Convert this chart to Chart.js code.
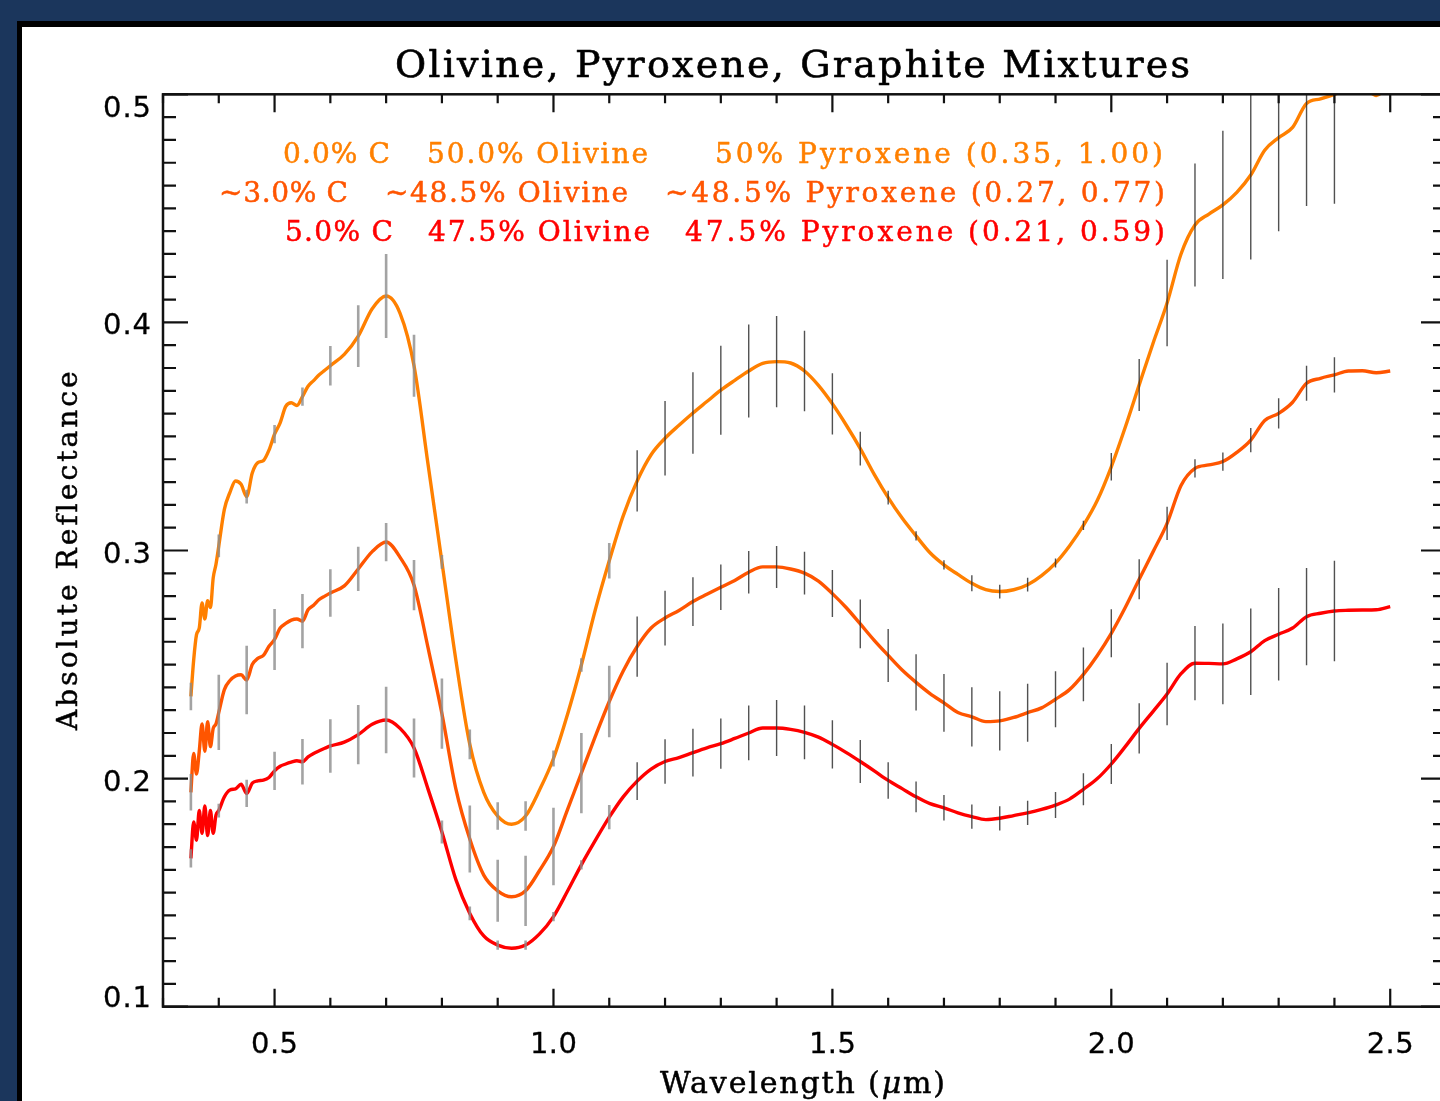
<!DOCTYPE html>
<html>
<head>
<meta charset="utf-8">
<script src="https://cdn.jsdelivr.net/npm/chart.js@4.4.1/dist/chart.umd.min.js"></script>
<style>
  html, body { margin:0; padding:0; width:1440px; height:1101px; overflow:hidden; background:#1b365c; }
  #panel { position:absolute; left:17px; top:21px; width:1460px; height:1120px; background:#fff;
           border-left:5px solid #000; border-top:6px solid #000; }
  #wrap { position:absolute; left:0; top:0; width:1470px; height:1101px; }
</style>
</head>
<body>
<div id="panel"></div>
<div id="wrap"><canvas id="specChart" width="1470" height="1101"></canvas></div>
<script>
// wavelength grid (µm)
const wl = [
  0.350,0.355,0.360,0.365,0.370,0.375,0.380,0.385,0.390,0.395,0.400,
  0.41,0.42,0.43,0.44,0.45,0.46,0.47,0.48,0.49,0.50,0.51,0.52,0.53,0.54,0.55,0.56,0.57,0.58,0.59,0.60,
  0.625,0.650,0.675,0.700,0.725,0.750,0.775,0.800,0.825,0.850,0.875,0.900,0.925,0.950,0.975,1.000,
  1.025,1.050,1.075,1.100,1.125,1.150,1.175,1.200,1.225,1.250,1.275,1.300,1.325,1.350,1.375,1.400,
  1.425,1.450,1.475,1.500,1.525,1.550,1.575,1.600,1.625,1.650,1.675,1.700,1.725,1.750,1.775,1.800,
  1.825,1.850,1.875,1.900,1.925,1.950,1.975,2.000,
  2.025,2.050,2.075,2.100,2.125,2.150,2.175,2.200,2.225,2.250,2.275,2.300,2.325,2.350,2.375,2.400,
  2.425,2.450,2.475,2.500
];

// reflectance, 0% graphite
const refl0 = [
  0.236,0.252,0.263,0.266,0.277,0.270,0.278,0.275,0.288,0.294,0.302,
  0.318,0.3255,0.3305,0.329,0.3236,0.334,0.3385,0.3394,0.344,0.351,0.356,0.3632,0.3648,0.3636,0.3675,0.372,0.3745,0.377,0.379,0.381,
  0.386,0.394,0.406,0.4116,0.404,0.381,0.338,0.295,0.252,0.215,0.194,0.1836,0.180,0.1836,0.195,0.2088,
  0.228,0.2498,0.274,0.2955,0.3152,0.3305,0.342,0.3492,0.3549,0.3603,0.3653,0.3703,0.3746,0.3787,0.382,0.3828,
  0.3822,0.3787,0.3724,0.3643,0.3549,0.3447,0.3334,0.3232,0.3142,0.3064,0.299,0.2937,0.2895,0.2856,0.2828,0.282,
  0.2828,0.285,0.289,0.2945,0.302,0.311,0.322,0.3367,
  0.354,0.3726,0.391,0.4085,0.430,0.4427,0.4475,0.4515,0.457,0.4646,0.4755,0.481,0.4855,0.496,0.498,0.500,
  0.5025,0.503,0.4995,0.5045
];

// reflectance, ~3% graphite
const refl3 = [
  0.194,0.211,0.202,0.212,0.224,0.212,0.225,0.214,0.222,0.224,0.229,
  0.239,0.243,0.245,0.2455,0.2432,0.250,0.2527,0.254,0.258,0.261,0.266,0.268,0.2695,0.270,0.269,0.274,0.276,0.2785,0.280,0.2814,
  0.2845,0.2919,0.2995,0.3037,0.297,0.2848,0.2575,0.2285,0.1955,0.1735,0.1577,0.1508,0.1482,0.1508,0.1597,0.1702,
  0.1863,0.2024,0.2185,0.2338,0.2472,0.2579,0.266,0.2704,0.2737,0.2776,0.2808,0.2839,0.2869,0.2905,0.2928,0.2928,
  0.2919,0.2901,0.2866,0.2811,0.2749,0.2678,0.2606,0.254,0.2476,0.2422,0.2373,0.2332,0.229,0.2271,0.225,0.2253,
  0.2268,0.2289,0.231,0.2348,0.239,0.2457,0.254,0.2637,
  0.275,0.2874,0.2995,0.3119,0.3285,0.336,0.3375,0.339,0.343,0.3484,0.357,0.3601,0.365,0.3733,0.3755,0.377,
  0.3787,0.3788,0.3779,0.3787
];

// reflectance, 5% graphite
const refl5 = [
  0.165,0.181,0.173,0.186,0.176,0.188,0.175,0.186,0.176,0.184,0.186,
  0.192,0.195,0.1955,0.1975,0.1935,0.198,0.199,0.1993,0.2005,0.2034,0.2054,0.2064,0.2072,0.2078,0.2074,0.2095,0.211,0.2122,0.2133,0.2143,
  0.216,0.2193,0.2238,0.2257,0.222,0.2134,0.1955,0.1766,0.1557,0.1409,0.131,0.127,0.1256,0.127,0.1319,0.1395,
  0.1506,0.1622,0.1729,0.1831,0.192,0.1989,0.2042,0.2075,0.2092,0.2114,0.2135,0.2153,0.2176,0.220,0.2222,0.2222,
  0.2216,0.2203,0.2182,0.215,0.2114,0.2075,0.2034,0.1992,0.1956,0.192,0.189,0.1872,0.185,0.1833,0.182,0.1826,
  0.1838,0.185,0.1865,0.1884,0.191,0.1953,0.2,0.2064,
  0.214,0.222,0.2295,0.2371,0.246,0.2506,0.2505,0.2503,0.2525,0.2556,0.2605,0.2633,0.266,0.271,0.2725,0.2735,
  0.2738,0.2739,0.274,0.2754
];

// error bar positions and half-widths
const errWl = [
  0.35,0.40,0.45,0.50,0.55,0.60,0.65,0.70,0.75,0.80,0.85,0.90,0.95,1.00,1.05,1.10,1.15,1.20,1.25,1.30,1.35,
  1.40,1.45,1.50,1.55,1.60,1.65,1.70,1.75,1.80,1.85,1.90,1.95,2.00,2.05,2.10,2.15,2.20,2.25,2.30,2.35,2.40
];
const err0 = [
  0.006,0.005,0.003,0.004,0.004,0.0087,0.0135,0.0184,0.0136,0.003,
  0.0065,0.006,0.0065,0.0035,0.003,0.0078,0.0134,0.0163,0.0179,0.0195,
  0.0204,0.020,0.0176,0.0134,0.0074,0.003,0.002,0.002,0.0035,0.003,
  0.003,0.002,0.002,0.006,0.0114,0.019,0.027,0.0325,0.037,0.041,
  0.045,0.048
];
const err3 = [
  0.008,0.0165,0.015,0.0134,0.0119,0.0104,0.0097,0.0084,0.011,0.0154,
  0.0147,0.0136,0.0154,0.017,0.0176,0.0157,0.0132,0.012,0.0107,0.010,
  0.0093,0.0092,0.0094,0.0103,0.0107,0.0116,0.0123,0.0127,0.013,0.013,
  0.0127,0.0123,0.0118,0.0105,0.0088,0.0073,0.004,0.004,0.0053,0.0066,
  0.0077,0.0077
];
const err5 = [
  0.004,0.003,0.006,0.0084,0.010,0.0117,0.013,0.0146,0.0129,0.005,
  0.003,0.002,0.002,0.002,0.002,0.0053,0.0083,0.0098,0.0105,0.011,
  0.012,0.0123,0.0118,0.0106,0.0094,0.008,0.0067,0.0056,0.0053,0.0053,
  0.0053,0.0057,0.007,0.0088,0.011,0.0137,0.0163,0.0177,0.019,0.0203,
  0.0213,0.022
];

const xTickLabels = ['0.5', '1.0', '1.5', '2.0', '2.5'];
const yTickLabels = ['0.1', '0.2', '0.3', '0.4', '0.5'];
const legendRows = [
  ['0.0% C', '50.0% Olivine', '50% Pyroxene (0.35, 1.00)'],
  ['~3.0% C', '~48.5% Olivine', '~48.5% Pyroxene (0.27, 0.77)'],
  ['5.0% C', '47.5% Olivine', '47.5% Pyroxene (0.21, 0.59)']
];

const colors = ['#ff8000', '#ff5500', '#ff0000'];
const series = [refl0, refl3, refl5];
const errs = [err0, err3, err5];

const SERIF = '"DejaVu Serif", serif';
const SANS = '"DejaVu Sans", sans-serif';

// draws text runs stretched (via letter spacing) to a given width,
// with a thin outline to give the heavier plotter-style stroke
function drawFitted(ctx, runs, x, y, w, align, weight) {
  ctx.letterSpacing = '0px';
  let nat = 0, n = 0;
  runs.forEach(([t, f]) => { ctx.font = f; nat += ctx.measureText(t).width; n += t.length; });
  const sp = w ? (w - nat) / Math.max(n - 1, 1) : 0;
  const total = nat + sp * (n - 1);
  let cx = align === 'center' ? x - total / 2 : align === 'right' ? x - total : x;
  ctx.textAlign = 'left';
  ctx.strokeStyle = ctx.fillStyle;
  ctx.lineWidth = weight || 0.5;
  ctx.lineJoin = 'round';
  runs.forEach(([t, f]) => {
    ctx.font = f;
    ctx.letterSpacing = '0px';
    const tw = ctx.measureText(t).width;
    ctx.letterSpacing = sp + 'px';
    ctx.fillText(t, cx, y);
    if (weight > 0) ctx.strokeText(t, cx, y);
    cx += tw + sp * t.length;
  });
  ctx.letterSpacing = '0px';
}

const idlFrame = {
  id: 'idlFrame',
  afterDatasetsDraw(chart) {
    const ctx = chart.ctx;
    const xs = chart.scales.x, ys = chart.scales.y;
    const a = chart.chartArea;

    // error bars, centred on the spectra
    ctx.save();
    ctx.beginPath();
    ctx.rect(a.left, a.top, a.right - a.left, a.bottom - a.top);
    ctx.clip();
    series.forEach((vals, s) => {
      errWl.forEach((w, i) => {
        const k = wl.findIndex(v => Math.abs(v - w) < 1e-6);
        const v = vals[k], e = errs[s][i];
        const px = xs.getPixelForValue(w);
        ctx.strokeStyle = w < 1.12 ? 'rgba(140,140,140,0.8)' : 'rgba(50,50,50,0.85)';
        ctx.lineWidth = w < 1.12 ? 2.6 : 1.4;
        ctx.beginPath();
        ctx.moveTo(px, ys.getPixelForValue(v - e));
        ctx.lineTo(px, ys.getPixelForValue(v + e));
        ctx.stroke();
      });
    });
    ctx.restore();

    // axis box and inward ticks
    ctx.save();
    ctx.strokeStyle = '#111';
    ctx.lineWidth = 2.5;
    ctx.strokeRect(a.left, a.top, a.right - a.left, a.bottom - a.top);
    ctx.lineWidth = 2.2;
    ctx.beginPath();
    for (let k = 10; k <= 50; k++) {
      const py = ys.getPixelForValue(k / 100);
      const len = k % 10 === 0 ? 25 : 13;
      ctx.moveTo(a.left, py); ctx.lineTo(a.left + len, py);
      ctx.moveTo(a.right, py); ctx.lineTo(a.right - len, py);
    }
    for (let k = 3; k <= 26; k++) {
      const px = xs.getPixelForValue(k / 10);
      const len = k % 5 === 0 ? 18 : 9;
      ctx.moveTo(px, a.bottom); ctx.lineTo(px, a.bottom - len);
      ctx.moveTo(px, a.top); ctx.lineTo(px, a.top + len);
    }
    ctx.stroke();

    // tick labels
    ctx.fillStyle = '#000';
    ctx.textBaseline = 'alphabetic';
    xTickLabels.forEach(t => {
      const px = xs.getPixelForValue(parseFloat(t));
      drawFitted(ctx, [[t, '29px ' + SANS]], px, a.bottom + 46, 47, 'center', 0.3);
    });
    yTickLabels.forEach(t => {
      const py = ys.getPixelForValue(parseFloat(t));
      const base = Math.min(Math.max(py + 12, a.top + 23), a.bottom);
      drawFitted(ctx, [[t, '29px ' + SANS]], 151, base, 48, 'right', 0.3);
    });

    // titles
    drawFitted(ctx, [['Olivine, Pyroxene, Graphite Mixtures', '38px ' + SERIF]], 792.5, 77, 795, 'center', 0.6);
    drawFitted(ctx, [['Wavelength (', '30px ' + SERIF], ['\u03bc', 'italic 30px ' + SERIF], ['m)', '30px ' + SERIF]],
      802.5, 1093, 285, 'center', 0.5);
    ctx.save();
    ctx.translate(77, 551);
    ctx.rotate(-Math.PI / 2);
    drawFitted(ctx, [['Absolute Reflectance', '28px ' + SERIF]], 0, 0, 358, 'center', 0.5);
    ctx.restore();

    // mixture labels
    const rowBase = [163, 202, 241];
    const spans = [
      [[283, 390], [427, 648], [715, 1163]],
      [[219, 348], [385, 628], [665, 1165]],
      [[285, 393], [428, 650], [685, 1165]]
    ];
    legendRows.forEach((row, r) => {
      ctx.fillStyle = colors[r];
      row.forEach((t, c) => {
        const [x0, x1] = spans[r][c];
        drawFitted(ctx, [[t, '28px ' + SERIF]], x0, rowBase[r], x1 - x0, 'left', 0.5);
      });
    });
    ctx.restore();
  }
};

const ctx = document.getElementById('specChart');
new Chart(ctx, {
  type: 'line',
  data: {
    datasets: series.map((vals, s) => ({
      data: wl.map((w, i) => ({ x: w, y: vals[i] })),
      borderColor: colors[s],
      borderWidth: 3.4,
      pointRadius: 0,
      fill: false,
      cubicInterpolationMode: 'monotone'
    }))
  },
  options: {
    responsive: false,
    animation: false,
    devicePixelRatio: 1,
    layout: { padding: { left: 163, top: 94.3, right: 24, bottom: 94.3 } },
    scales: {
      x: { type: 'linear', min: 0.3, max: 2.6, display: false },
      y: { type: 'linear', min: 0.1, max: 0.5, display: false }
    },
    plugins: { legend: { display: false }, tooltip: { enabled: false }, title: { display: false } }
  },
  plugins: [idlFrame]
});
</script>
</body>
</html>
